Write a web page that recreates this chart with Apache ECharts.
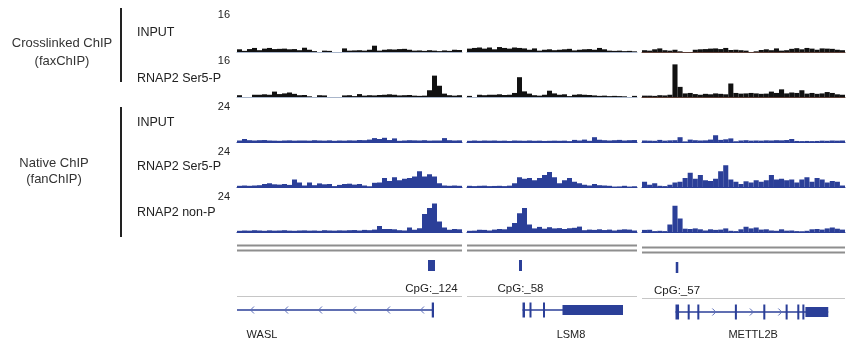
<!DOCTYPE html>
<html><head><meta charset="utf-8">
<script src="https://cdn.jsdelivr.net/npm/echarts@6/dist/echarts.min.js"></script>
<style>html,body{margin:0;padding:0;background:#fff}#c{width:848px;height:343px}</style>
</head><body><div id="c"></div>
<script>
// ---------------- DATA ----------------
const regions = ['WASL', 'LSM8', 'METTL2B'];
const binCounts = [45, 34, 40];
const trackLabels = ['INPUT', 'RNAP2 Ser5-P', 'INPUT', 'RNAP2 Ser5-P', 'RNAP2 non-P'];
const scaleMax = [16, 16, 24, 24, 24];
const groupLabels = [['Crosslinked ChIP', '(faxChIP)'], ['Native ChIP', '(fanChIP)']];

// Crosslinked ChIP (faxChIP) INPUT
const faxInputWASL = [1.2,0.5,1.3,1.8,0.8,1.5,1.8,1.3,1.4,1.5, 1.2,1.3,0.8,1.9,1.0,0.4,0,0.6,0.5,0, 0,1.6,0.6,0.7,0.8,0.6,1.0,2.8,0.6,1.0, 1.2,1.1,1.3,1.4,1.0,0.6,0.7,0.5,0.8,0.6, 0.4,0.7,0.5,1.0,0.9];
const faxInputLSM8 = [1.5,1.8,2.0,1.5,2.0,1.2,2.2,1.8,1.5,2.0, 1.8,1.6,1.0,1.6,0.6,1.0,1.2,0.8,1.0,1.2, 1.4,0.7,1.0,1.2,1.3,1.0,1.8,1.2,0.6,0.5, 0.6,0.4,0.5,0.3];
const faxInputMETTL2B = [0.8,0.6,1.2,1.6,0.8,0.6,1.0,0.3,0,0, 1.0,1.2,1.3,1.5,1.6,1.3,1.8,0.9,1.0,0.8, 0.6,0,0.3,0.9,1.2,0.8,1.6,0.6,0.8,1.4, 1.7,1.2,1.8,1.5,1.0,1.6,1.5,1.4,1.0,0.8];
// Crosslinked ChIP (faxChIP) RNAP2 Ser5-P
const faxSer5WASL = [0.8,0,0,1.0,1.0,1.2,1.0,2.4,1.3,1.6, 2.0,1.4,0.8,0.9,0.3,0,0.8,0.7,0,0, 0,0.7,0.8,0.4,1.3,0.6,0.8,0.7,0.9,1.0, 1.2,1.0,0.7,0.8,0.9,0.6,0.5,0.6,3.0,9.5, 5.0,1.5,0.8,0.6,0.8];
const faxSer5LSM8 = [0.5,0,1.0,0.8,1.0,1.0,1.2,0.9,1.0,1.8, 8.8,2.5,1.5,0.8,0.6,1.0,2.8,1.6,1.0,1.2, 0.4,1.0,1.2,1.0,0.9,0.7,0.5,0.6,0.4,0.5, 0.4,0.3,0,0.5];
const faxSer5METTL2B = [0.6,0.6,0.5,0.8,0.7,1.0,14.5,4.5,1.6,1.8, 1.3,1.0,1.4,1.2,1.6,1.4,1.2,6.0,1.8,1.5, 1.6,1.8,1.6,1.4,1.5,2.4,1.8,3.4,1.6,2.0, 1.8,3.0,1.5,1.8,1.4,1.6,2.2,1.8,1.2,1.0];
// Native ChIP (fanChIP) INPUT
const fanInputWASL = [1.0,2.0,1.2,1.0,1.2,1.3,1.0,0.9,0.8,1.0, 1.1,0.9,1.0,1.0,0.9,1.2,1.0,0.9,1.1,0.8, 1.0,0.9,1.1,1.0,1.3,1.2,1.6,2.6,2.0,2.8, 1.3,2.4,0.8,1.0,1.2,1.1,1.0,1.2,0.9,1.0, 1.0,2.6,1.2,1.0,1.1];
const fanInputLSM8 = [0.8,1.0,0.8,1.0,0.9,1.0,0.8,0.9,0.7,1.0, 0.9,0.8,1.0,0.8,0.9,0.7,0.8,0.9,0.8,0.9, 0.6,1.4,1.0,1.6,0.8,3.2,1.5,1.2,1.0,1.2, 1.4,1.0,1.2,1.3];
const fanInputMETTL2B = [1.0,0.9,0.8,1.4,0.9,1.1,1.2,3.2,0.4,1.6, 1.2,1.0,1.1,1.6,4.5,1.4,1.8,2.4,0.5,1.0, 1.2,0.9,1.0,0.9,1.1,1.0,1.2,1.1,1.3,2.0, 0.7,0.6,0.7,0.6,0.7,0.9,0.8,1.0,0.9,1.0];
// Native ChIP (fanChIP) RNAP2 Ser5-P
const fanSer5WASL = [0.8,1.0,0.8,1.0,1.2,2.0,2.5,1.8,1.6,2.0, 1.4,5.0,3.0,1.0,3.0,1.2,2.4,1.8,2.0,0.6, 1.4,2.0,2.2,1.6,2.0,1.0,0.5,2.8,3.0,6.0, 4.0,6.5,4.5,5.5,6.0,7.0,10.5,7.0,8.5,7.0, 2.5,1.0,0.8,1.0,0.8];
const fanSer5LSM8 = [0.8,0.6,0.8,0.9,0.6,0.7,0.8,0.6,0.9,2.5, 6.5,5.5,6.0,4.5,6.0,8.0,10.0,6.5,2.5,4.5, 6.0,3.5,2.5,1.5,1.0,2.0,1.2,1.0,0.8,0.3, 0.4,0.8,0.3,0.5];
const fanSer5METTL2B = [3.5,1.5,2.5,0.8,0.6,1.5,3.0,3.5,6.0,9.5, 5.5,8.0,4.5,4.0,5.5,10.5,14.5,5.0,3.5,2.0, 3.8,3.0,4.5,3.5,4.5,8.0,5.0,5.5,4.5,5.0, 3.0,5.0,6.5,3.5,6.0,5.0,3.0,4.0,3.5,1.0];
// Native ChIP (fanChIP) RNAP2 non-P
const fanNonPWASL = [0.8,1.0,0.9,1.2,1.0,0.8,1.1,0.9,1.0,1.2, 0.9,0.8,1.0,1.1,0.9,1.0,0.8,1.2,1.0,0.9, 1.1,1.0,1.2,1.3,1.0,1.4,1.2,1.6,4.0,2.0, 2.0,1.8,1.2,1.0,3.0,1.5,2.5,12.0,16.0,19.0, 7.0,3.0,1.5,2.0,1.8];
const fanNonPLSM8 = [0.8,0.9,1.5,1.4,1.0,1.6,2.0,1.8,3.5,6.0, 12.5,16.0,5.0,2.4,3.4,2.2,3.2,2.4,2.6,2.0, 2.5,2.8,3.6,1.2,1.6,1.4,1.8,1.3,1.6,1.0, 1.5,1.8,1.6,1.0];
const fanNonPMETTL2B = [1.4,1.5,0.6,0.8,0.6,5.0,17.5,9.0,2.2,2.0, 2.4,1.8,1.0,1.8,1.4,1.6,2.4,0.8,0.6,1.8, 3.5,2.4,3.0,1.6,1.8,1.0,0.8,1.8,0.9,1.0, 0.6,0.5,0.8,1.8,2.0,1.6,2.4,3.0,2.2,1.6];

// CpG islands (positions in bin units of each region)
const cpgRegion = [0, 1, 2];
const cpgStart = [38.2, 10.4, 6.65];
const cpgEnd = [39.6, 11.0, 7.15];
const cpgNames = ['CpG:_124', 'CpG:_58', 'CpG:_57'];

// Genes (positions in bin units of each region)
const geneNames = ['WASL', 'LSM8', 'METTL2B'];
const geneStrand = ['-', '+', '+'];
const geneTxStart = [0, 11.1, 6.6];
const geneTxEnd = [39.4, 31.2, 36.7];
const geneExons = [
  [[38.95, 39.4]],
  [[11.1, 11.6], [12.5, 12.9], [15.2, 15.6]],
  [[6.6, 7.3], [9.0, 9.4], [10.9, 11.3], [18.3, 18.7], [23.9, 24.3], [28.3, 28.7], [30.6, 31.0], [31.6, 32.0]]
];
const geneUtrs = [[], [[19.1, 31.2]], [[32.2, 36.7]]];
const geneLabelAt = [5, 20.8, 21.9];

// ---------------- LAYOUT / STYLE ----------------
const tracks = [
  [faxInputWASL, faxInputLSM8, faxInputMETTL2B],
  [faxSer5WASL, faxSer5LSM8, faxSer5METTL2B],
  [fanInputWASL, fanInputLSM8, fanInputMETTL2B],
  [fanSer5WASL, fanSer5LSM8, fanSer5METTL2B],
  [fanNonPWASL, fanNonPLSM8, fanNonPMETTL2B]
];
const PANEL_LEFT = [237, 467, 642];
const PANEL_W = [225, 170, 203];
const TRACK_TOP = [16, 61, 106, 151, 196];
const TRACK_H = 36;
const BLUE = '#2b3f98';
const BAR_COLOR = ['#111111', '#111111', BLUE, BLUE, BLUE];
const BASE_COLOR = [
  ['#a9b6cb', '#a9b6cb', '#5e4038'],
  ['#a9b6cb', '#a9b6cb', '#5e4038'],
  [BLUE, BLUE, BLUE], [BLUE, BLUE, BLUE], [BLUE, BLUE, BLUE]
];
const FONT = '"Liberation Sans", Arial, sans-serif';
const ANN_TOP = 236, ANN_H = 107;

const grid = [], xAxis = [], yAxis = [], series = [];
for (let t = 0; t < tracks.length; t++) {
  for (let p = 0; p < 3; p++) {
    const idx = grid.length;
    grid.push({ left: PANEL_LEFT[p], width: PANEL_W[p], top: TRACK_TOP[t], height: TRACK_H });
    xAxis.push({
      type: 'category', gridIndex: idx, boundaryGap: true,
      data: tracks[t][p].map((_, i) => i),
      axisLine: { show: true, lineStyle: { color: BASE_COLOR[t][p], width: 1 } },
      axisTick: { show: false }, axisLabel: { show: false }, splitLine: { show: false }
    });
    yAxis.push({ type: 'value', gridIndex: idx, min: 0, max: scaleMax[t], show: false });
    series.push({
      type: 'bar', xAxisIndex: idx, yAxisIndex: idx, data: tracks[t][p],
      barCategoryGap: '0%', itemStyle: { color: BAR_COLOR[t], borderWidth: 0 },
      silent: true, animation: false
    });
  }
}

function annotRender(p) {
  return function (params, api) {
    const off = p === 2 ? 2 : 0;
    const X = v => api.coord([v, 0])[0];
    const Y = r => api.coord([0, r + off])[1];
    const L = X(0), R = X(binCounts[p]);
    const ch = [];
    [9.5, 14.5].forEach(r => ch.push({ type: 'line', shape: { x1: L, y1: Y(r), x2: R, y2: Y(r) }, style: { stroke: '#8e8e8e', lineWidth: 2 } }));
    for (let i = 0; i < cpgRegion.length; i++) {
      if (cpgRegion[i] !== p) continue;
      const x1 = X(cpgStart[i]), x2 = X(cpgEnd[i]);
      ch.push({ type: 'rect', shape: { x: x1, y: Y(24), width: Math.max(x2 - x1, 2), height: Y(35) - Y(24) }, style: { fill: BLUE } });
      ch.push({ type: 'text', style: { text: cpgNames[i], x: (x1 + x2) / 2, y: Y(53), align: 'center', verticalAlign: 'middle', font: '11.5px ' + FONT, fill: '#222' } });
    }
    ch.push({ type: 'line', shape: { x1: L, y1: Y(60.5), x2: R, y2: Y(60.5) }, style: { stroke: '#c6c6c6', lineWidth: 1 } });
    const gy = Y(74);
    ch.push({ type: 'line', shape: { x1: X(geneTxStart[p]), y1: gy, x2: X(geneTxEnd[p]), y2: gy }, style: { stroke: BLUE, lineWidth: 1.5 } });
    // chevrons along introns
    const feats = geneExons[p].concat(geneUtrs[p]).sort((a, b) => a[0] - b[0]);
    let prev = geneTxStart[p];
    const introns = [];
    feats.forEach(f => { if (f[0] > prev) introns.push([prev, f[0]]); prev = Math.max(prev, f[1]); });
    introns.forEach(seg => {
      const a = X(seg[0]), b = X(seg[1]);
      for (let x = a + 15; x < b - 5; x += 34) {
        const pts = geneStrand[p] === '-'
          ? [[x + 2, gy - 3.5], [x - 1.5, gy], [x + 2, gy + 3.5]]
          : [[x - 2, gy - 3.5], [x + 1.5, gy], [x - 2, gy + 3.5]];
        ch.push({ type: 'polyline', shape: { points: pts }, style: { stroke: '#5a6cb8', lineWidth: 1, fill: null } });
      }
    });
    geneExons[p].forEach(e => {
      const x1 = X(e[0]), x2 = X(e[1]);
      ch.push({ type: 'rect', shape: { x: x1, y: gy - 7.5, width: Math.max(x2 - x1, 2), height: 15 }, style: { fill: BLUE } });
    });
    geneUtrs[p].forEach(e => {
      const x1 = X(e[0]), x2 = X(e[1]);
      ch.push({ type: 'rect', shape: { x: x1, y: gy - 5, width: x2 - x1, height: 10 }, style: { fill: BLUE } });
    });
    ch.push({ type: 'text', style: { text: geneNames[p], x: X(geneLabelAt[p]), y: Y(99 - off), align: 'center', verticalAlign: 'middle', font: '11px ' + FONT, fill: '#222' } });
    return { type: 'group', children: ch };
  };
}

for (let p = 0; p < 3; p++) {
  const idx = grid.length;
  grid.push({ left: PANEL_LEFT[p], width: PANEL_W[p], top: ANN_TOP, height: ANN_H });
  xAxis.push({ type: 'value', gridIndex: idx, min: 0, max: binCounts[p], show: false });
  yAxis.push({ type: 'value', gridIndex: idx, min: 0, max: ANN_H, inverse: true, show: false });
  series.push({ type: 'custom', xAxisIndex: idx, yAxisIndex: idx, data: [[0, 0]], renderItem: annotRender(p), silent: true, clip: false });
}

const graphic = [];
const txt = (text, x, y, size, align, color) => ({
  type: 'text', x: x, y: y, silent: true,
  style: { text: text, font: size + 'px ' + FONT, fill: color || '#222', align: align, verticalAlign: 'middle' }
});
graphic.push(txt(groupLabels[0][0], 62, 43, 13, 'center', '#333'));
graphic.push(txt(groupLabels[0][1], 62, 61, 13, 'center', '#333'));
graphic.push(txt(groupLabels[1][0], 54, 163, 13, 'center', '#333'));
graphic.push(txt(groupLabels[1][1], 54, 179, 13, 'center', '#333'));
graphic.push({ type: 'line', shape: { x1: 121, y1: 8, x2: 121, y2: 82 }, style: { stroke: '#222', lineWidth: 2 } });
graphic.push({ type: 'line', shape: { x1: 121, y1: 107, x2: 121, y2: 237 }, style: { stroke: '#222', lineWidth: 2 } });
const LABEL_Y = [33, 79, 123, 167, 213];
const SCALE_Y = [15, 61, 107, 152, 197];
for (let t = 0; t < trackLabels.length; t++) {
  graphic.push(txt(trackLabels[t], 137, LABEL_Y[t], 12.5, 'left', '#222'));
  graphic.push(txt(String(scaleMax[t]), 230, SCALE_Y[t], 11, 'right', '#222'));
}

const chart = echarts.init(document.getElementById('c'), null, { renderer: 'canvas' });
chart.setOption({ animation: false, backgroundColor: '#fff', grid, xAxis, yAxis, series, graphic });
</script>
</body></html>
